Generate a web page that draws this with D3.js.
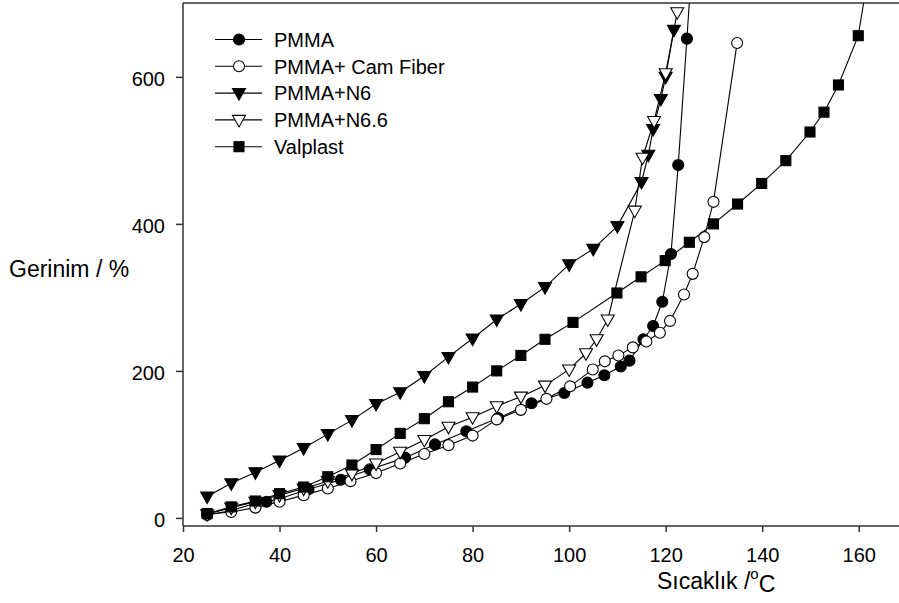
<!DOCTYPE html>
<html>
<head>
<meta charset="utf-8">
<script src="https://cdn.jsdelivr.net/npm/d3@7"></script>
<style>
  html, body { margin: 0; padding: 0; background: #fff; }
  svg { display: block; }
  text { font-family: "Liberation Sans", Arial, sans-serif; fill: #000; }
</style>
</head>
<body>
<svg id="chart" width="899" height="603"></svg>
<script>
// Strain (%) versus temperature (°C) for five denture base materials
const pmmaX = [25, 30, 35, 37.3, 40, 46, 52.7, 58.7, 66, 72.2, 78.7, 85.3, 92.2, 99, 103.8, 107.3, 110.7, 112.5, 115.4, 117.4, 119.3, 121.1, 122.6, 124.4, 125.7];
const pmmaY = [4, 10, 20, 22, 26, 39, 52, 66, 82, 100, 118, 136, 156, 170, 184, 194, 206, 214, 243, 261, 294, 359, 480, 652, 780];

const camX = [25, 30, 35, 40, 45, 50, 54.7, 60, 65, 70, 75, 80, 85, 90, 95.3, 100.2, 104.9, 107.4, 110.2, 113.2, 116, 118.8, 120.9, 123.8, 125.6, 128, 129.9, 134.8];
const camY = [5, 8, 14, 22, 31, 40, 50, 61, 74, 87, 99, 112, 134, 147, 162, 179, 202, 213, 221, 232, 240, 252, 268, 304, 332, 382, 430, 646];

const n6X = [25, 30, 35, 40, 45, 50, 55, 60, 65, 70, 75, 80, 85, 90, 95, 100, 105, 110, 115, 116.4, 117.4, 119, 120, 121.7];
const n6Y = [29, 47, 62, 78, 95, 114, 133, 155, 171, 193, 219, 244, 270, 291, 314, 345, 366, 397, 457, 494, 529, 570, 600, 664];

const n66X = [25, 30, 35, 40, 45, 50, 55, 60, 65, 70, 75, 80, 85, 90, 95, 100, 103.5, 105.7, 108, 113.6, 115.2, 117.6, 120, 122.4];
const n66Y = [5, 14, 22, 31, 40, 50, 60, 74, 90, 106, 124, 137, 152, 165, 180, 202, 224, 243, 270, 418, 490, 540, 605, 688];

const valX = [25, 30, 35, 40, 45, 50, 55, 60, 65, 70, 75, 80, 85, 90, 95, 100.8, 109.9, 114.9, 119.9, 124.9, 129.9, 134.9, 139.9, 144.9, 149.9, 152.8, 155.8, 159.9, 162.5];
const valY = [6, 15, 23, 33, 42, 56, 72, 93, 115, 135, 158, 178, 200, 221, 243, 266, 306, 328, 350, 375, 400, 427, 455, 486, 525, 552, 589, 656, 760];

const xTicks = [20, 40, 60, 80, 100, 120, 140, 160];
const yTicks = [0, 200, 400, 600];

const seriesNames = ["PMMA", "PMMA+ Cam Fiber", "PMMA+N6", "PMMA+N6.6", "Valplast"];

const xTitle = "Sıcaklık /";
const yTitle = "Gerinim / %";

// ---- layout ----
const svg = d3.select("#chart");
const plotLeft = 183, plotTop = 3, plotBottom = 526, plotRight = 907;

const x = d3.scaleLinear().domain([20, 170]).range([plotLeft, plotRight]);
const y = d3.scaleLinear().domain([-11, 700.5]).range([plotBottom, plotTop]);

// symbol shapes
const shapes = {
  circle: (g, fill) => g.append("circle").attr("r", 5.5).attr("fill", fill),
  tri: (g, fill) => g.append("path").attr("d", "M-6.5,-4.5L6.5,-4.5L0,7Z").attr("fill", fill),
  square: (g, fill) => g.append("rect").attr("x", -5).attr("y", -5).attr("width", 10).attr("height", 10).attr("fill", fill)
};

const series = [
  { name: seriesNames[0], xs: pmmaX, ys: pmmaY, shape: "circle", fill: "#000" },
  { name: seriesNames[1], xs: camX, ys: camY, shape: "circle", fill: "#fff" },
  { name: seriesNames[2], xs: n6X, ys: n6Y, shape: "tri", fill: "#000" },
  { name: seriesNames[3], xs: n66X, ys: n66Y, shape: "tri", fill: "#fff" },
  { name: seriesNames[4], xs: valX, ys: valY, shape: "square", fill: "#000" }
];

// clip data to the plotting frame
svg.append("defs").append("clipPath").attr("id", "plotclip")
  .append("rect").attr("x", plotLeft).attr("y", plotTop)
  .attr("width", plotRight - plotLeft).attr("height", plotBottom - plotTop);

const plot = svg.append("g").attr("clip-path", "url(#plotclip)");

const line = d3.line().x(d => x(d[0])).y(d => y(d[1]));

// drawing order: N6, PMMA, Cam Fiber, N6.6, Valplast
[2, 0, 1, 3, 4].forEach(i => {
  const s = series[i];
  const pts = s.xs.map((v, k) => [v, s.ys[k]]);
  const g = plot.append("g");
  g.append("path").attr("d", line(pts)).attr("fill", "none")
    .attr("stroke", "#000").attr("stroke-width", 1.1);
  pts.forEach(p => {
    const m = g.append("g").attr("transform", `translate(${x(p[0])},${y(p[1])})`);
    shapes[s.shape](m, s.fill).attr("stroke", "#000").attr("stroke-width", 1.1);
  });
});

// ---- frame and axes ----
const axisColor = "#333";
svg.append("line").attr("x1", plotLeft).attr("x2", plotRight).attr("y1", plotTop).attr("y2", plotTop)
  .attr("stroke", axisColor).attr("stroke-width", 1.5);

const xAxis = d3.axisBottom(x).tickValues(xTicks).tickSize(6).tickPadding(16).tickFormat(d3.format("d"));
const gx = svg.append("g").attr("transform", `translate(0,${plotBottom})`).call(xAxis);
const yAxis = d3.axisLeft(y).tickValues(yTicks).tickSize(7).tickPadding(11).tickFormat(d3.format("d"));
const gy = svg.append("g").attr("transform", `translate(${plotLeft},0)`).call(yAxis);

[gx, gy].forEach(g => {
  g.select(".domain").attr("stroke", axisColor).attr("stroke-width", 1.5);
  g.selectAll(".tick line").attr("stroke", axisColor).attr("stroke-width", 1.5);
  g.selectAll(".tick text").attr("font-size", 20).attr("fill", "#000")
    .attr("font-family", "Liberation Sans, Arial, sans-serif");
});
gx.select(".domain").attr("d", `M${plotLeft},0H${plotRight}`);
gy.select(".domain").attr("d", `M0,${plotBottom}V${plotTop}`);
gy.selectAll(".tick text").attr("dy", "0.42em");

// axis titles
const xt = svg.append("text").attr("x", 657).attr("y", 589).attr("font-size", 23);
xt.append("tspan").text(xTitle);
xt.append("tspan").attr("font-size", 15).attr("dy", -10).text("o");
xt.append("tspan").attr("dy", 13).text("C");

svg.append("text").attr("x", 9).attr("y", 277).attr("font-size", 23).text(yTitle);

// ---- legend ----
const legend = svg.append("g");
series.forEach((s, i) => {
  const cy = 39.5 + i * 26.8;
  const g = legend.append("g").attr("transform", `translate(0,${cy})`);
  g.append("line").attr("x1", 215).attr("x2", 262).attr("y1", 0).attr("y2", 0)
    .attr("stroke", "#000").attr("stroke-width", 1.1);
  const m = g.append("g").attr("transform", "translate(239,0)");
  shapes[s.shape](m, s.fill).attr("stroke", "#000").attr("stroke-width", 1.1);
  g.append("text").attr("x", 274).attr("y", 7.3).attr("font-size", 20).text(s.name);
});
</script>
</body>
</html>
